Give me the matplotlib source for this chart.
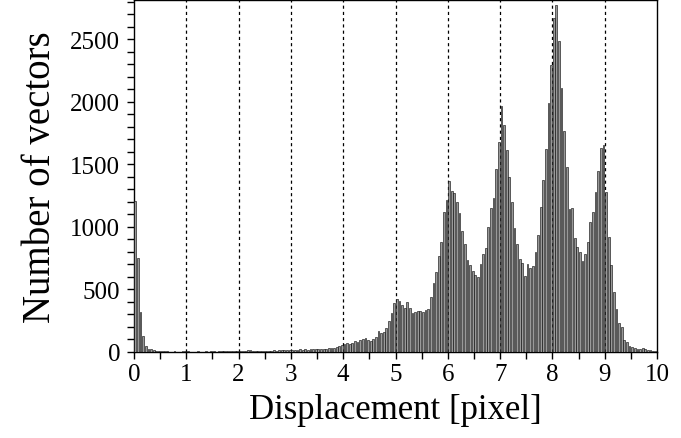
import numpy as np
import matplotlib
matplotlib.use("Agg")
import matplotlib.pyplot as plt
from matplotlib.ticker import MultipleLocator

# histogram: 200 bins of width 0.05 pixel from 0 to 10
bin_edges = np.round(np.arange(0, 10.0001, 0.05), 3)
counts = [
    1210, 752, 322, 130, 45, 24, 24, 12, 8, 6,
    5, 4, 6, 3, 2, 4, 3, 2, 4, 5,
    6, 3, 2, 3, 5, 2, 3, 4, 3, 6,
    5, 3, 4, 6, 5, 7, 6, 8, 6, 9,
    8, 10, 9, 12, 14, 10, 11, 9, 8, 10,
    9, 11, 10, 12, 11, 13, 12, 14, 16, 15,
    17, 18, 16, 20, 19, 22, 18, 21, 24, 20,
    23, 26, 22, 25, 30, 28, 34, 38, 45, 52,
    66, 70, 64, 72, 84, 80, 95, 105, 110, 95,
    90, 100, 118, 165, 155, 160, 190, 245, 310, 390,
    425, 410, 375, 355, 400, 350, 310, 320, 330, 330,
    322, 338, 344, 437, 552, 637, 770, 877, 1117, 1216,
    1365, 1290, 1272, 1197, 1109, 970, 864, 738, 696, 650,
    615, 600, 700, 780, 830, 1000, 1152, 1229, 1464, 1682,
    1965, 1816, 1618, 1397, 1200, 990, 860, 744, 715, 611,
    704, 670, 691, 797, 936, 1157, 1379, 1624, 1989, 2296,
    2669, 2776, 2483, 2109, 1763, 1483, 1144, 1150, 909, 840,
    803, 731, 784, 877, 1037, 1117, 1283, 1445, 1629, 1656,
    1283, 917, 696, 483, 344, 232, 197, 96, 83, 45,
    37, 29, 24, 24, 28, 20, 18, 12, 8, 5,
]
grid_positions = [1, 2, 3, 4, 5, 6, 7, 8, 9]
x_ticks = [0, 1, 2, 3, 4, 5, 6, 7, 8, 9, 10]
y_ticks = [0, 500, 1000, 1500, 2000, 2500]

plt.rcParams['font.family'] = ['Liberation Serif', 'DejaVu Serif']

fig = plt.figure(figsize=(6.81, 4.39), dpi=100)
ax = fig.add_axes([0.1968, 0.1959, 0.768, 0.802])

width = 0.05
lefts = bin_edges[:-1]
ax.bar(lefts + width / 2, counts, width=width * 0.68, color='#999999',
       edgecolor='black', linewidth=0.4, zorder=3)

for g in grid_positions:
    ax.axvline(g, color='black', linestyle=(0, (2.5, 2.5)), linewidth=0.9, zorder=1)

ax.set_xlim(0, 10)
ax.set_ylim(0, 2815)
ax.set_xticks(x_ticks)
ax.set_yticks(y_ticks)
ax.xaxis.set_minor_locator(MultipleLocator(0.5))
ax.yaxis.set_minor_locator(MultipleLocator(100))
ax.tick_params(axis='both', which='both', direction='out', length=5, width=1,
               labelsize=18, colors='black')
ax.tick_params(axis='y', pad=5)
ax.tick_params(axis='x', pad=3)
for s in ax.spines.values():
    s.set_linewidth(1.0)

ax.set_xlabel('Displacement [pixel]', fontsize=25, labelpad=6)
ax.set_ylabel('Number of vectors', fontsize=28, labelpad=8)

fig.savefig('out.png', dpi=100)
